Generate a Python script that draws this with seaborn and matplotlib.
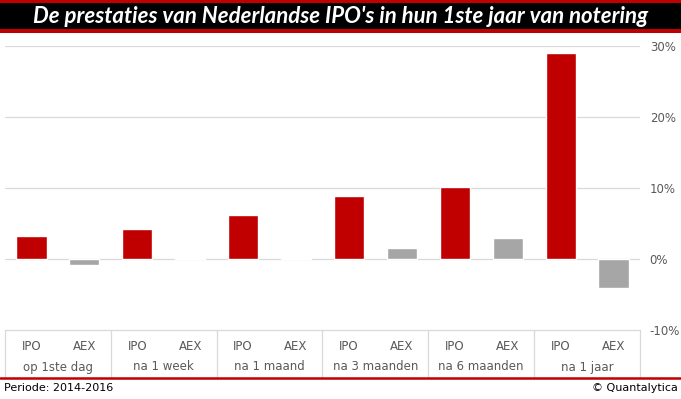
import pandas as pd
import matplotlib.pyplot as plt
import matplotlib.transforms as mtransforms
from matplotlib.patches import Rectangle
from matplotlib.lines import Line2D
import seaborn as sns

# data
groups = ["op 1ste dag", "na 1 week", "na 1 maand", "na 3 maanden", "na 6 maanden", "na 1 jaar"]
series = ["IPO", "AEX"]
ipo = [3.2, 4.2, 6.2, 8.9, 10.1, 29.0]
aex = [-0.8, 0.2, 0.2, 1.5, 3.0, -4.1]
yticks = [-10, 0, 10, 20, 30]

rows = []
for g, a, b in zip(groups, ipo, aex):
    rows.append({"key": g + " IPO", "serie": "IPO", "value": a / 100})
    rows.append({"key": g + " AEX", "serie": "AEX", "value": b / 100})
df = pd.DataFrame(rows)

sns.set_style("white")
W, H = 681, 399
fig = plt.figure(figsize=(W / 100, H / 100), dpi=100)

def fy(p):
    return 1 - p / H

ax = fig.add_axes([5 / W, fy(330), 635 / W, fy(46) - fy(330)])
sns.barplot(data=df, x="key", y="value", hue="serie", dodge=False,
            palette={"IPO": "#C00000", "AEX": "#A6A6A6"}, width=0.57,
            saturation=1, legend=False, ax=ax, zorder=3)

ax.set_xlim(-0.5, 11.5)
ax.set_ylim(-0.10, 0.30)
ax.set_yticks([t / 100 for t in yticks])
ax.set_yticklabels([f"{t}%" for t in yticks], color="#595959", fontsize=8.5)
ax.yaxis.tick_right()
ax.tick_params(axis="y", length=0, pad=7)
ax.set_xticks([])
ax.set_xlabel("")
ax.set_ylabel("")
for s in ax.spines.values():
    s.set_visible(False)
for t in yticks[1:]:
    ax.axhline(t / 100, color="#D9D9D9", lw=0.9, zorder=0)

# category table below the plot
tr = mtransforms.blended_transform_factory(ax.transData, fig.transFigure)
grid_c = "#D9D9D9"
fig.add_artist(Line2D([-0.5, 11.5], [fy(330), fy(330)], transform=tr, color=grid_c, lw=0.9))
for i in range(len(groups) + 1):
    x = -0.5 + 2 * i
    fig.add_artist(Line2D([x, x], [fy(330), fy(377)], transform=tr, color=grid_c, lw=0.9))
for i, g in enumerate(groups):
    for j, s in enumerate(series):
        fig.text(2 * i + j, fy(346), s, transform=tr, ha="center", va="center",
                 fontsize=8.5, color="#595959")
    fig.text(2 * i + 0.5, fy(367), g, transform=tr, ha="center", va="center",
             fontsize=8.5, color="#595959")

# title bar
fig.add_artist(Rectangle((0, fy(33)), 1, fy(0) - fy(33), transform=fig.transFigure,
                         facecolor="#C00000", edgecolor="none"))
fig.add_artist(Rectangle((0, fy(29)), 1, fy(3) - fy(29), transform=fig.transFigure,
                         facecolor="black", edgecolor="none"))
fig.text(0.5, fy(16.5), "De prestaties van Nederlandse IPO's in hun 1ste jaar van notering",
         ha="center", va="center", color="white", fontsize=16,
         fontweight="bold", fontstyle="italic", family="Lato")

# footer
fig.add_artist(Line2D([0, 1], [fy(377.5), fy(377.5)], transform=fig.transFigure,
                      color="#C00000", lw=1.8))
fig.text(4 / W, fy(388), "Periode: 2014-2016", ha="left", va="center", fontsize=8, color="black")
fig.text(678 / W, fy(388), "© Quantalytica", ha="right", va="center", fontsize=8, color="black")

fig.savefig("out.png", dpi=100)
